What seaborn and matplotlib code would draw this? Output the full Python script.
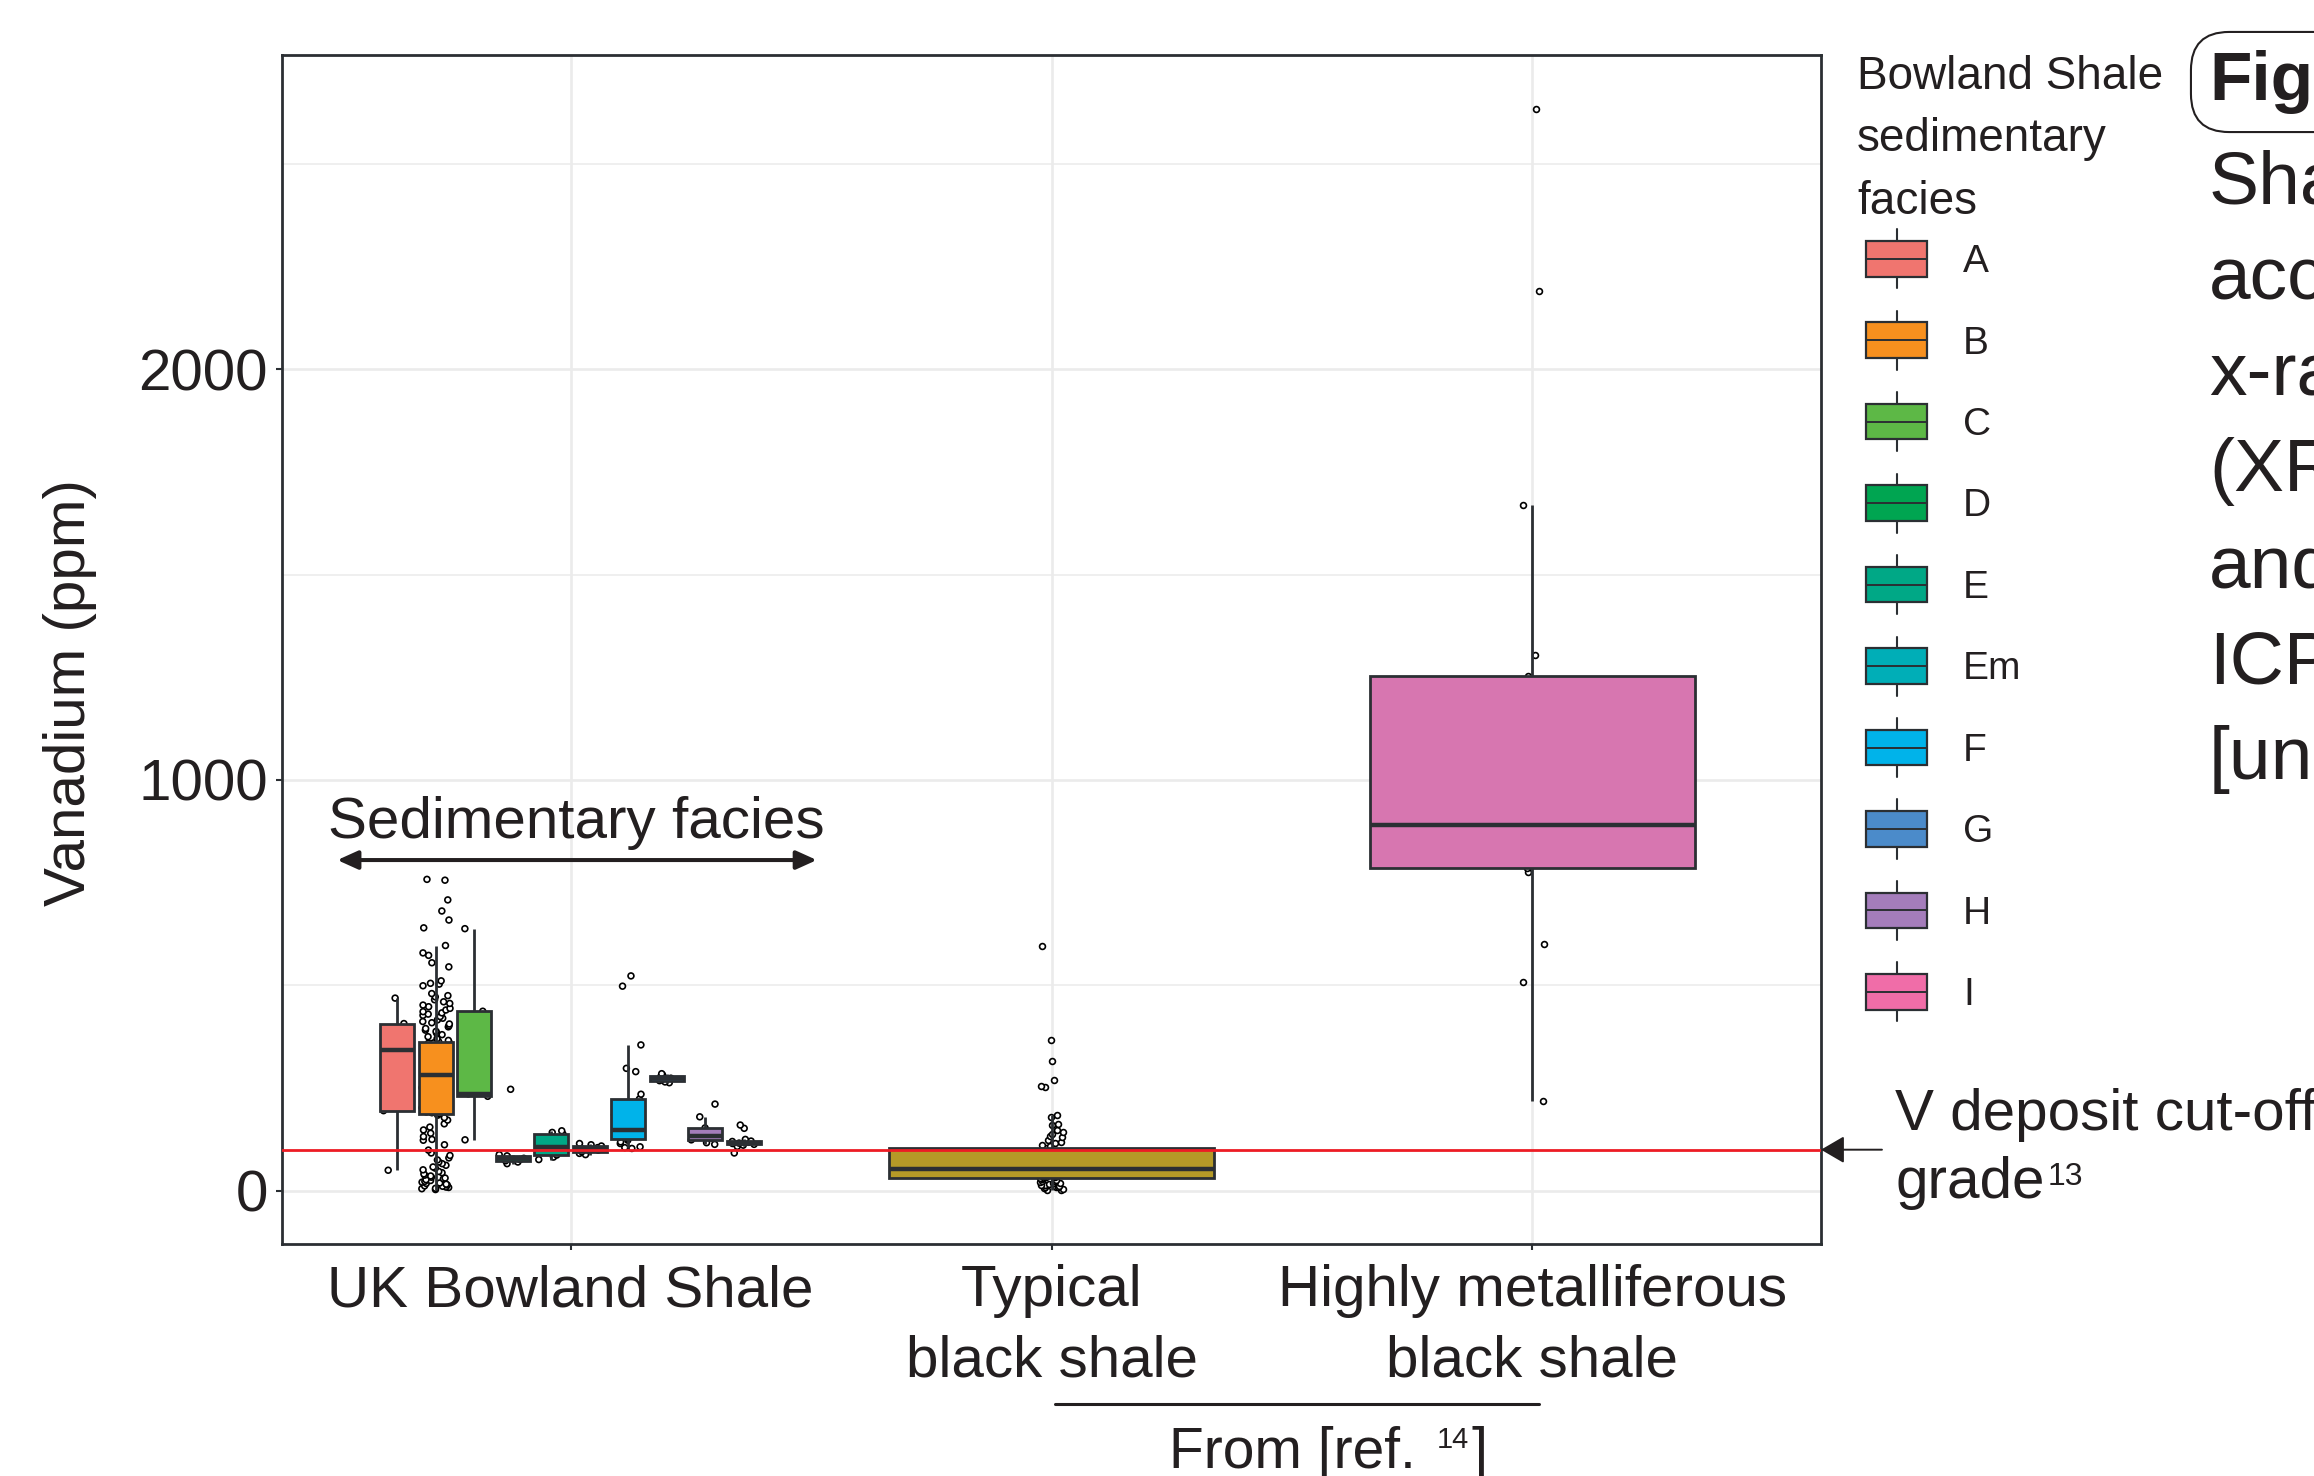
import numpy as np
import pandas as pd
import matplotlib
matplotlib.use("Agg")
import matplotlib.pyplot as plt
import matplotlib.transforms as mtransforms
from matplotlib.legend_handler import HandlerBase
from matplotlib.lines import Line2D
from matplotlib.patches import Patch, Rectangle, ArrowStyle
from matplotlib.ticker import MultipleLocator
import seaborn as sns

# ---------------- data: vanadium (ppm) ----------------
groups = ["UK Bowland Shale", "Typical\nblack shale", "Highly metalliferous\nblack shale"]
facies = ["A", "B", "C", "D", "E", "Em", "F", "G", "H", "I"]
facies_colors = ["#F0756F", "#F7901E", "#5DB846", "#00A551", "#00A886",
                 "#00AEB7", "#00B3EA", "#4B8BCA", "#A47DBB", "#F06DA8"]
reference_colors = ["#B59A27", "#D776B0"]

v_A = [50, 195, 343, 407, 469]
v_B = [3, 5, 6, 8, 9, 11, 12, 14, 16, 18, 19, 21, 23, 25, 27, 29, 31, 33, 36, 38,
       41, 44, 47, 51, 55, 58, 62, 66, 70, 75, 80, 86, 92, 99, 112, 123, 125, 132,
       140, 148, 155, 163, 172, 178, 184,
       188,
       190, 192, 195, 197, 199, 202, 204, 206, 208, 211, 213, 215, 218, 219, 222,
       224, 227, 228, 231, 233, 236, 237, 240, 242, 245, 246, 249, 251, 253, 256,
       258, 260, 262, 265, 266, 268, 270, 272, 274, 275, 277, 278, 279, 280,
       281,
       283, 285, 288, 289, 291, 294, 295, 297, 300, 301, 303, 306, 307, 309, 312,
       313, 315, 318, 319, 321, 324, 325, 327, 330, 331, 333, 336, 337, 339, 342,
       343, 345, 348, 349, 351, 353, 354, 355, 356, 357, 358, 359, 360, 361,
       363,
       366, 370, 375, 380, 384, 388, 391, 395, 399, 402, 406, 409, 412, 416, 420,
       424, 427, 430, 433, 436, 440, 444, 448, 452, 456, 460, 465, 472, 475, 480,
       499, 503, 505, 511, 545, 555, 573, 579, 597, 640, 659, 681, 708, 756, 758]
v_C = [124, 230, 236, 437, 638]
v_D = [66, 70, 73, 76, 79, 82, 85, 88, 247]
v_E = [76, 82, 87, 95, 107, 118, 138, 142, 146]
v_Em = [88, 91, 95, 99, 102, 105, 109, 112, 115]
v_F = [103, 105, 107, 115, 119, 123, 127, 130, 134, 138, 141, 145, 148,
       160, 172, 185, 198, 212, 223, 235, 290, 298, 355, 498, 523]
v_G = [263, 265, 268, 271, 274, 277, 279, 282, 285]
v_H = [113, 117, 124, 128, 133, 140, 153, 180, 211]
v_I = [92, 108, 111, 113, 115, 116, 117, 118, 120, 121, 125, 152, 160]

v_typical = [2, 3, 5, 6, 8, 9, 10, 12, 13, 14, 15, 17, 18, 20, 21, 23, 25, 26, 28, 30,
             32,
             33, 34, 35, 36, 37, 38, 39, 40, 41, 42, 43, 44, 45, 46, 47, 48, 50, 51, 53,
             54,
             56, 58, 60, 62, 64, 66, 68, 70, 72, 74, 77, 80, 83, 86, 89, 92, 95, 98, 101,
             104,
             108, 111, 116, 119, 124, 132, 134, 137, 142, 149, 160, 162, 179, 185,
             252, 254, 270, 315, 366, 595]
v_highly = [218, 508, 601, 775, 786, 820, 850, 872, 890, 960, 1050, 1150,
            1253, 1305, 1670, 2190, 2633]

cutoff_grade = 100
y_major = 1000
y_minor = 500

# ---------------- tidy tables ----------------
uk_values = [v_A, v_B, v_C, v_D, v_E, v_Em, v_F, v_G, v_H, v_I]
uk = pd.DataFrame({
    "group": groups[0],
    "facies": np.repeat(facies, [len(v) for v in uk_values]),
    "V": np.concatenate(uk_values).astype(float),
})
ref = pd.DataFrame({
    "group": [groups[1]] * len(v_typical) + [groups[2]] * len(v_highly),
    "V": np.array(v_typical + v_highly, dtype=float),
})

# ---------------- style ----------------
sns.set_theme(style="whitegrid")
plt.rcParams["font.family"] = ["Liberation Sans", "DejaVu Sans"]
INK = "#231F20"
EDGE = "#2B2F33"
GRID = "#EBEBEB"

W, H = 2314, 1476
fig = plt.figure(figsize=(W / 100, H / 100), dpi=100)
fig.patch.set_facecolor("white")
ax = fig.add_axes([282 / W, 1 - 1244 / H, (1821 - 282) / W, (1244 - 55) / H])
ax.set_facecolor("white")

np.random.seed(11)
pt_kw = dict(size=4.2, linewidth=1.2, edgecolor="black", zorder=1)

# jittered observations, underneath the boxes
sns.stripplot(data=uk, x="group", y="V", hue="facies", order=groups,
              hue_order=facies, palette=dict.fromkeys(facies, "white"),
              dodge=True, jitter=0.30, legend=False, ax=ax, **pt_kw)
sns.stripplot(data=ref, x="group", y="V", order=groups, color="white",
              jitter=0.025, ax=ax, **pt_kw)

box_kw = dict(showcaps=False, showfliers=False, saturation=1, linecolor=EDGE,
              linewidth=2.0,
              medianprops=dict(linewidth=3.2, color=EDGE),
              whiskerprops=dict(linewidth=2.0, color=EDGE))
sns.boxplot(data=uk, x="group", y="V", hue="facies", order=groups,
            hue_order=facies, palette=dict(zip(facies, facies_colors)),
            width=0.8, gap=0.12, legend=False, ax=ax, **box_kw)
sns.boxplot(data=ref, x="group", y="V", hue="group", order=groups,
            palette=dict(zip(groups[1:], reference_colors)),
            width=0.675, legend=False, ax=ax, **box_kw)

# cut-off grade line
ax.axhline(cutoff_grade, color="#ED1C24", lw=2.0, zorder=6)

# ---------------- axes ----------------
all_v = np.concatenate([uk["V"].to_numpy(), ref["V"].to_numpy()])
span = all_v.max() - all_v.min()
ax.set_ylim(all_v.min() - 0.05 * span, all_v.max() + 0.05 * span)
ax.set_xlim(-0.6, len(groups) - 0.4)
ax.yaxis.set_major_locator(MultipleLocator(y_major))
ax.yaxis.set_minor_locator(MultipleLocator(y_minor))
ax.set_xticks(range(len(groups)))
ax.set_xticklabels(groups)
ax.set_xlabel("")
ax.set_ylabel("Vanadium (ppm)", fontsize=42, color=INK)
ax.yaxis.set_label_coords(-0.1202, 0.464)

ax.set_axisbelow(True)
ax.grid(True, which="major", axis="both", color=GRID, lw=1.9)
ax.grid(True, which="minor", axis="y", color=GRID, lw=1.1)
ax.tick_params(axis="both", which="major", bottom=True, left=True,
               length=4.5, width=1.5, color=EDGE, labelcolor=INK, labelsize=42)
ax.tick_params(axis="y", which="major", pad=5.8)
ax.tick_params(axis="x", which="major", pad=10.0)
ax.tick_params(which="minor", length=0)
for lab in ax.get_xticklabels():
    lab.set_linespacing(1.38)
    lab.set_multialignment("center")
for s in ax.spines.values():
    s.set_color(EDGE)
    s.set_linewidth(2.0)

# ---------------- in-panel annotation ----------------
ax.text(0.012, 858, "Sedimentary facies", ha="center", va="baseline",
        fontsize=42, color=INK)
ax.annotate("", xy=(-0.485, 805), xytext=(0.512, 805),
            arrowprops=dict(arrowstyle=ArrowStyle("<|-|>", head_length=0.62, head_width=0.28),
                            mutation_scale=20, lw=2.9, color=INK,
                            shrinkA=0, shrinkB=0))

# cut-off grade label and pointer
ytr = ax.get_yaxis_transform()
ax.annotate("", xy=(1.0, cutoff_grade), xycoords=ytr,
            xytext=(1.0396, cutoff_grade), textcoords=ytr,
            arrowprops=dict(arrowstyle=ArrowStyle("-|>", head_length=0.72, head_width=0.42),
                            mutation_scale=20, lw=1.4, color=INK,
                            shrinkA=0, shrinkB=0),
            annotation_clip=False)
fig.text(1895 / W, 1 - 1130 / H, "V deposit cut-off", fontsize=42, color=INK,
         va="baseline", ha="left")
t_grade = fig.text(1895 / W, 1 - 1198 / H, "grade", fontsize=42, color=INK,
                   va="baseline", ha="left")
fig.add_artist(matplotlib.text.Annotation(
    "13", xy=(1, 1), xycoords=t_grade, xytext=(2, -4), textcoords="offset points",
    fontsize=23, color=INK, ha="left", va="top"))

# source bracket under the reference groups
btr = mtransforms.blended_transform_factory(ax.transData, fig.transFigure)
fig.add_artist(Line2D([1.008, 2.014], [1 - 1404 / H] * 2, transform=btr,
                      color=INK, lw=2.2))
t_from = fig.text(1169 / W, 1 - 1468 / H, "From [ref.", fontsize=41, color=INK,
                  va="baseline", ha="left")
t_sup = fig.add_artist(matplotlib.text.Annotation(
    "14", xy=(1, 1), xycoords=t_from, xytext=(15, 0), textcoords="offset points",
    fontsize=21, color=INK, ha="left", va="top"))
fig.add_artist(matplotlib.text.Annotation(
    "]", xy=(1, 0), xycoords=(t_sup, t_from), xytext=(1.5, 0),
    textcoords="offset points", fontsize=41, color=INK, ha="left", va="bottom"))

# ---------------- legend of facies ----------------
class BoxKey(HandlerBase):
    def create_artists(self, legend, orig_handle, xdescent, ydescent,
                       width, height, fontsize, trans):
        x0, y0 = -xdescent, -ydescent
        cx, cy = x0 + width / 2, y0 + height / 2
        reach = height * 0.33
        whisker = Line2D([cx, cx], [y0 - reach, y0 + height + reach],
                         color=EDGE, lw=1.5, transform=trans)
        box = Rectangle((x0, y0), width, height,
                        facecolor=orig_handle.get_facecolor(),
                        edgecolor=EDGE, lw=1.6, transform=trans)
        median = Line2D([x0, x0 + width], [cy, cy], color=EDGE, lw=1.4,
                        transform=trans)
        return [whisker, box, median]


fig.text(1857 / W, 1 - 55 / H, "Bowland Shale\nsedimentary\nfacies",
         fontsize=33, color=INK, ha="left", va="top", linespacing=1.54)
handles = [Patch(facecolor=c) for c in facies_colors]
fig.legend(handles, facies, handler_map={Patch: BoxKey()},
           loc="upper left", bbox_to_anchor=(1866 / W, 1 - 241 / H),
           frameon=False, fontsize=28, labelcolor=INK,
           handlelength=1.57, handleheight=1.03, handletextpad=0.93,
           labelspacing=1.09, borderpad=0, borderaxespad=0)

# ---------------- caption running off the right edge ----------------
fig.text(2209 / W, 1 - 100 / H, "Figure", fontsize=50, fontweight="bold",
         color=INK, ha="left", va="baseline",
         bbox=dict(boxstyle="round,pad=0.26,rounding_size=0.55",
                   fc="white", ec=INK, lw=1.5))
caption_lines = ["Shale", "according", "x-ray", "(XRF)", "and", "ICP-MS", "[unpublished"]
for i, line in enumerate(caption_lines):
    fig.text(2209 / W, 1 - (203 + 96 * i) / H, line, fontsize=54, color=INK,
             ha="left", va="baseline")

fig.savefig("out.png", dpi=100, facecolor="white")
